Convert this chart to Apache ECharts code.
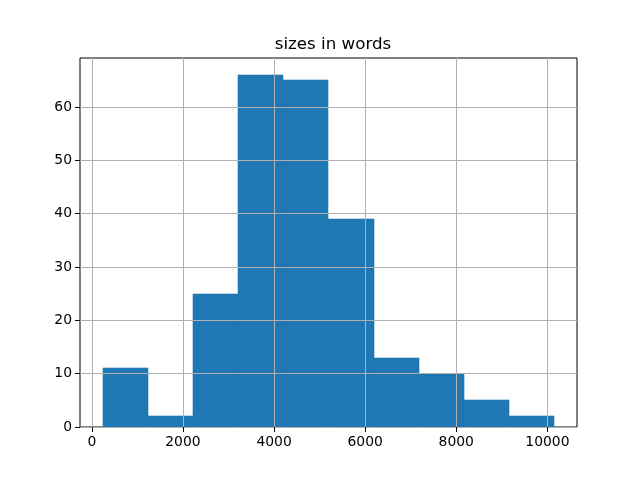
<!DOCTYPE html>
<html><head><meta charset="utf-8">
<script src="https://cdn.jsdelivr.net/npm/echarts@6/dist/echarts.min.js"></script>
<style>html,body{margin:0;padding:0;background:#fff}#c{width:640px;height:480px}</style>
</head><body><div id="c"></div>
<script>
const binEdges = [237, 1228, 2219, 3210, 4201, 5192, 6183, 7174, 8165, 9156, 10147];
const counts = [11, 2, 25, 66, 65, 39, 13, 10, 5, 2];
const xTicks = [0, 2000, 4000, 6000, 8000, 10000];
const yTicks = [0, 10, 20, 30, 40, 50, 60];
const titleText = 'sizes in words';

const data = counts.map((c, i) => [binEdges[i], binEdges[i + 1], c]);
const chart = echarts.init(document.getElementById('c'), null, {renderer: 'canvas'});
const font = 'DejaVu Sans';
chart.setOption({
  animation: false,
  title: {text: titleText, left: 328, top: 31, textAlign: 'center',
    textStyle: {fontFamily: font, fontSize: 16.7, fontWeight: 'normal', color: '#000'}},
  grid: {left: 80, right: 63, top: 58, bottom: 53, containLabel: false,
    show: true, borderColor: '#000', borderWidth: 1},
  xAxis: {type: 'value', min: -260, max: 10650, z: 3,
    axisLine: {show: false, onZero: false},
    axisTick: {show: true, length: 5, inside: false, customValues: xTicks, lineStyle: {color: '#000'}},
    axisLabel: {customValues: xTicks, fontFamily: font, fontSize: 13.9, color: '#000', margin: 8,
      formatter: v => String(v)},
    splitLine: {show: true, lineStyle: {color: '#b0b0b0', width: 1}}},
  yAxis: {type: 'value', min: 0, max: 69.2, z: 3,
    axisLine: {show: false, onZero: false},
    axisTick: {show: true, length: 5, customValues: yTicks, lineStyle: {color: '#000'}},
    axisLabel: {customValues: yTicks, fontFamily: font, fontSize: 13.9, color: '#000', margin: 8,
      formatter: v => String(v)},
    splitLine: {show: true, lineStyle: {color: '#b0b0b0', width: 1}}},
  series: [{
    type: 'custom', z: 1,
    renderItem: function (params, api) {
      const p0 = api.coord([api.value(0), 0]);
      const p1 = api.coord([api.value(1), api.value(2)]);
      const x0 = Math.round(p0[0]), x1 = Math.round(p1[0]);
      const y0 = Math.round(p0[1]), y1 = Math.round(p1[1]);
      return {type: 'rect', shape: {x: x0, y: y1, width: x1 - x0, height: y0 - y1},
        style: {fill: '#1f77b4', stroke: '#1f77b4', lineWidth: 0.6}};
    },
    encode: {x: [0, 1], y: 2},
    data: data
  }]
});
</script></body></html>
